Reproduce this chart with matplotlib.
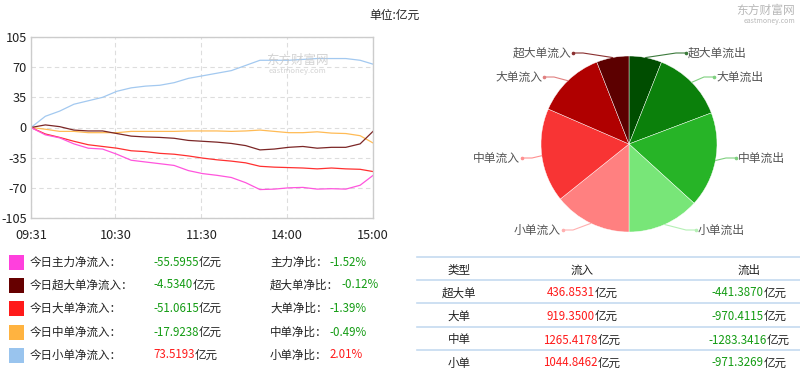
import matplotlib
matplotlib.use("Agg")
import matplotlib.pyplot as plt
import numpy as np

plt.rcParams['font.family'] = ['Noto Sans CJK SC', 'DejaVu Sans']

# ---------------- data ----------------
minute_idx = [0, 10, 20, 30, 40, 50, 60, 70, 80, 90, 100, 110, 120, 130, 140, 150,
              160, 170, 180, 190, 200, 210, 220, 230, 239]
small_net = [0, 13, 19, 27, 31, 35, 42, 46, 48, 49, 52, 57, 60, 63, 66, 72,
             78, 78, 78, 79, 80, 80, 80, 78, 73.5]
super_net = [0, 3, 1, -3, -4, -4, -7, -10, -11, -11.5, -12.5, -15, -16, -17, -18.5, -21,
             -26, -25, -23, -22, -24, -23, -23, -19, -4.5]
medium_net = [0, -2, -4.5, -4.5, -6, -6, -6, -4.5, -4.5, -4.5, -4.5, -4, -4, -4, -4.5, -4,
              -3, -4.5, -6, -6, -5, -6.5, -7, -9.5, -17.9]
large_net = [0, -7.5, -11.5, -16, -20, -22, -24, -27, -28, -30, -31, -33, -35.5, -37.5, -39, -41,
             -45, -46, -46.5, -47, -48, -47, -48, -48.5, -51.1]
main_net = [0, -8.5, -12, -19, -24, -25, -31, -38, -40, -42, -44, -50, -53.5, -55.5, -58, -64,
            -72, -71.5, -70, -69.5, -71.5, -71, -71.5, -67, -55.6]

x_tick_pos = [0, 59, 119, 179, 239]
x_tick_labels = ['09:31', '10:30', '11:30', '14:00', '15:00']
y_ticks = [-105, -70, -35, 0, 35, 70, 105]

legend_labels = ['今日主力净流入：', '今日超大单净流入：', '今日大单净流入：', '今日中单净流入：', '今日小单净流入：']
net_values = [-55.5955, -4.5340, -51.0615, -17.9238, 73.5193]
ratio_labels = ['主力净比：', '超大单净比：', '大单净比：', '中单净比：', '小单净比：']
ratios = [-1.52, -0.12, -1.39, -0.49, 2.01]

table_types = ['超大单', '大单', '中单', '小单']
inflow = [436.8531, 919.3500, 1265.4178, 1044.8462]
outflow = [-441.3870, -970.4115, -1283.3416, -971.3269]

pie_labels = ['超大单流出', '大单流出', '中单流出', '小单流出', '小单流入', '中单流入', '大单流入', '超大单流入']
pie_values = [441.3870, 970.4115, 1283.3416, 971.3269, 1044.8462, 1265.4178, 919.3500, 436.8531]

# ---------------- styles / layout ----------------
W, H = 800, 374
line_colors = ['#ff55dd', '#7b2626', '#ff3030', '#ffbb55', '#a3c9f0']
legend_colors = ['#ff40dd', '#660000', '#ff1a1a', '#ffb340', '#99c4ee']
pie_colors = ['#004d00', '#0b800b', '#27b427', '#78e678', '#ff8080', '#f83434', '#b00000', '#5c0000']
line_conn_colors = ['#3c7a3c', '#7fd07f', '#7fd07f', '#b5f0b5', '#ffb0b0', '#ff9090', '#e08080', '#8a3030']
# label anchor points (pixels) for the pie labels, layout only
pie_label_anchor = [(686, 53), (714, 77), (736, 158), (696, 230),
                    (563, 230), (522, 158), (544, 77), (573, 53)]
GREEN = '#149c14'
RED = '#ff1a1a'
TXT = '#222222'

fig = plt.figure(figsize=(W / 100, H / 100), dpi=100)
fig.patch.set_facecolor('white')


def fx(x):
    return x / W


def fy(y):
    return 1 - y / H


# ---------------- line chart ----------------
ax = fig.add_axes([fx(31), fy(218), (373 - 31) / W, (218 - 37) / H])
series = [main_net, super_net, large_net, medium_net, small_net]
order = [4, 3, 1, 2, 0]
for i in order:
    ax.plot(minute_idx, series[i], color=line_colors[i], lw=0.9)
ax.set_xlim(0, 239)
ax.set_ylim(-105, 105)
ax.set_yticks(y_ticks)
ax.set_yticklabels([str(v) for v in y_ticks])
ax.set_xticks(x_tick_pos)
ax.set_xticklabels(x_tick_labels)
ax.tick_params(length=0, labelsize=9.2, colors=TXT)
ax.tick_params(axis='y', pad=3)
ax.tick_params(axis='x', pad=8)
ax.grid(True, color='#dddddd', linestyle=(0, (4, 3)), lw=0.8)
for s in ax.spines.values():
    s.set_color('#cccccc')
    s.set_linewidth(1)
ax.text(0.78, 0.87, '东方财富网', transform=ax.transAxes, color='#c8c8c8', fontsize=9,
        ha='center', va='center', alpha=0.8)
ax.text(0.78, 0.81, 'eastmoney.com', transform=ax.transAxes, color='#c8c8c8', fontsize=5.5,
        ha='center', va='center', alpha=0.8)

# title
fig.text(fx(395), fy(15), '单位:亿元', ha='center', va='center', fontsize=8.5, color=TXT)
# top-right watermark
fig.text(fx(795), fy(10), '东方财富网', ha='right', va='center', fontsize=8.5, color='#b8b8b8')
fig.text(fx(795), fy(21), 'eastmoney.com', ha='right', va='center', fontsize=5, color='#b8b8b8')

# ---------------- pie ----------------
cx, cy, R = 629, 144, 88
pw, ph = 330, 230
pax = fig.add_axes([fx(cx - pw / 2), fy(cy + ph / 2), pw / W, ph / H])
wedges, _ = pax.pie(pie_values, colors=pie_colors, startangle=90, counterclock=False,
                    radius=1.0, wedgeprops=dict(edgecolor='white', linewidth=0.3))
pax.set_xlim(-pw / 2 / R, pw / 2 / R)
pax.set_ylim(-ph / 2 / R, ph / 2 / R)
pax.set_aspect('equal')
pax.axis('off')
for k, w in enumerate(wedges):
    mid = np.deg2rad((w.theta1 + w.theta2) / 2)
    ex, ey = np.cos(mid), np.sin(mid)
    axp, ayp = pie_label_anchor[k]
    dx = (axp - cx) / R
    dy = (cy - ayp) / R
    side = 1 if dx >= 0 else -1
    kx = dx - side * 10 / R
    pax.plot([ex, kx, dx], [ey, dy, dy], color=line_conn_colors[k], lw=0.8,
             solid_capstyle='round')
    pax.plot([dx], [dy], marker='o', ms=1.6, color=line_conn_colors[k])
    pax.text(dx + side * 2 / R, dy, pie_labels[k], ha='left' if side > 0 else 'right',
             va='center', fontsize=8.5, color='#555555')

# ---------------- legend block ----------------
fig.canvas.draw()
renderer = fig.canvas.get_renderer()


def text_width(t):
    return t.get_window_extent(renderer=renderer).width


row_y = [262, 285, 308, 332, 355]
for i in range(5):
    y = row_y[i]
    fig.patches.append(plt.Rectangle((fx(9), fy(y + 7.5)), 15 / W, 15 / H,
                                     transform=fig.transFigure, facecolor=legend_colors[i],
                                     edgecolor='none'))
    fig.text(fx(30), fy(y), legend_labels[i], ha='left', va='center', fontsize=8.3, color=TXT)
    col = RED if net_values[i] > 0 else GREEN
    t = fig.text(fx(153), fy(y), f'{net_values[i]:.4f}', ha='left', va='center', fontsize=8.3,
                 color=col)
    wv = text_width(t)
    fig.text(fx(153 + wv), fy(y), '亿元', ha='left', va='center', fontsize=8.3, color=TXT)
    t2 = fig.text(fx(270), fy(y), ratio_labels[i], ha='left', va='center', fontsize=8.3, color=TXT)
    wl = text_width(t2)
    colr = RED if ratios[i] > 0 else GREEN
    fig.text(fx(270 + wl + 2), fy(y), f'{ratios[i]:.2f}%', ha='left', va='center', fontsize=8.3,
             color=colr)

# ---------------- table ----------------
sep_y = [257, 280, 303, 327, 350]
for y in sep_y:
    fig.add_artist(plt.Line2D([fx(417), fx(800)], [fy(y), fy(y)], color='#c5daf0', lw=1.2))

col_x = [459, 582, 749]
header_y = 270
for txt, x in zip(['类型', '流入', '流出'], col_x):
    fig.text(fx(x), fy(header_y), txt, ha='center', va='center', fontsize=8.3, color=TXT)

row_ty = [293, 316, 340, 363]


def value_cell(xc, y, num, col):
    a = fig.text(0, 0, num, fontsize=8.3)
    b = fig.text(0, 0, '亿元', fontsize=8.3)
    wa, wb = text_width(a), text_width(b)
    a.remove()
    b.remove()
    x0 = xc - (wa + wb) / 2
    fig.text(fx(x0), fy(y), num, ha='left', va='center', fontsize=8.3, color=col)
    fig.text(fx(x0 + wa), fy(y), '亿元', ha='left', va='center', fontsize=8.3, color=TXT)


for i in range(4):
    y = row_ty[i]
    fig.text(fx(col_x[0]), fy(y), table_types[i], ha='center', va='center', fontsize=8.3, color=TXT)
    value_cell(col_x[1], y, f'{inflow[i]:.4f}', RED)
    value_cell(col_x[2], y, f'{outflow[i]:.4f}', GREEN)

fig.savefig('out.png', dpi=100)
